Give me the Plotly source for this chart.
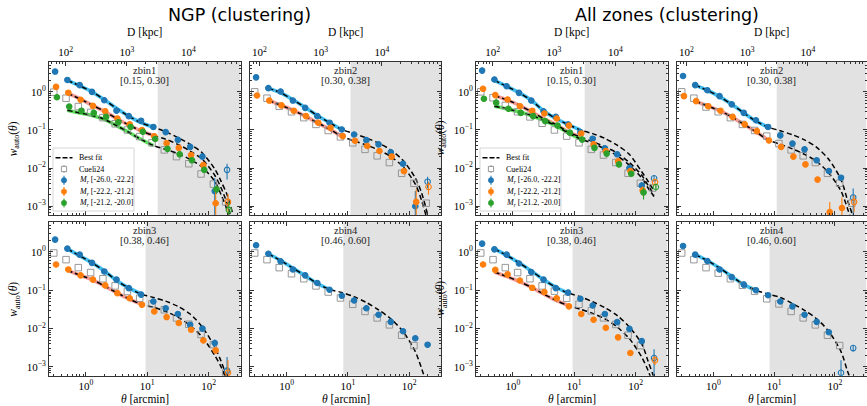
import plotly.graph_objects as go

W, H = 867, 406

# ---------------- data ----------------
theta = [0.316, 0.501, 0.794, 1.26, 2.00, 3.16, 5.01, 7.94, 12.6, 20.0, 31.6, 50.1, 79.4, 126.0, 200.0]
fit_theta = [0.5, 0.79, 1.26, 2.0, 3.16, 5.0, 7.9, 12.6, 20.0, 31.6, 50.0, 79.0, 126.0, 160.0, 200.0, 250.0]

zbin_names = ["zbin1", "zbin2", "zbin3", "zbin4"]
zbin_ranges = ["[0.15, 0.30]", "[0.30, 0.38]", "[0.38, 0.46]", "[0.46, 0.60]"]
fit_solid_max = [12.6, 7.9, 7.9, 5.0]        # arcmin, fitted range
shade_start = [14.8, 11.0, 9.4, 8.4]         # arcmin, excluded scales
kpc_per_arcmin_log = [2.33, 2.445, None, None]
group_titles = ["NGP (clustering)", "All zones (clustering)"]
legend_labels = ["Best fit", "Cueli24",
                 "<i>M<sub>r</sub></i> [-26.0, -22.2]",
                 "<i>M<sub>r</sub></i> [-22.2, -21.2]",
                 "<i>M<sub>r</sub></i> [-21.2, -20.0]"]

# NGP zbin1
ngp1_cueli = [0.98, 0.68, 0.41, 0.29, 0.21, 0.145, 0.10, 0.067, 0.046, 0.030, 0.020, 0.013, 0.0070, 0.0038, 0.0013]
ngp1_blue = [3.4, 2.05, 1.5, 1.0, 0.60, 0.32, 0.23, 0.175, 0.12, 0.088, 0.055, 0.036, 0.020, 0.0025, 0.009]
ngp1_orange = [1.35, 0.95, 0.62, 0.43, 0.31, 0.20, 0.14, 0.10, 0.068, 0.045, 0.034, 0.022, 0.012, 0.0012, 0.0013]
ngp1_green = [0.72, 0.41, 0.32, 0.28, 0.22, 0.16, 0.12, 0.09, 0.058, 0.032, 0.023, 0.016, 0.009, 0.0028, 0.0008]
ngp1_blue_err = [0, 0, 0, 0, 0, 0, 0, 0, 0, 0, 0, 0, 0.002, 0.003, 0.004]
ngp1_orange_err = [0, 0, 0, 0, 0, 0, 0, 0, 0, 0, 0, 0, 0.001, 0.0015, 0.0008]
ngp1_green_err = [0, 0, 0, 0, 0, 0, 0, 0, 0, 0, 0, 0, 0.001, 0.0006, 0.0005]
ngp1_open = [14]
ngp1_fit_blue = [2.0, 1.45, 1.0, 0.62, 0.37, 0.23, 0.155, 0.118, 0.09, 0.063, 0.042, 0.025, 0.0095, 0.0045, 0.002, 0.0006]
ngp1_fit_orange = [0.92, 0.66, 0.45, 0.31, 0.20, 0.135, 0.095, 0.072, 0.057, 0.042, 0.028, 0.017, 0.0065, 0.003, 0.0012, 0.0003]
ngp1_fit_green = [0.33, 0.28, 0.24, 0.19, 0.13, 0.087, 0.057, 0.039, 0.031, 0.024, 0.017, 0.0105, 0.0045, 0.002, 0.0008, 0.0002]

# NGP zbin2
ngp2_cueli = [1.0, 0.68, 0.42, 0.30, 0.21, 0.14, 0.097, 0.066, 0.046, 0.031, 0.021, 0.014, 0.0073, 0.0040, 0.0012]
ngp2_blue = [2.4, 1.25, 1.02, 0.59, 0.38, 0.23, 0.155, 0.103, 0.076, 0.054, 0.042, 0.026, 0.013, 0.0010, 0.0044]
ngp2_orange = [0.80, 0.59, 0.44, 0.32, 0.23, 0.155, 0.114, 0.069, 0.052, 0.038, 0.028, 0.020, 0.0083, 0.0013, 0.0032]
ngp2_blue_err = [0, 0, 0, 0, 0, 0, 0, 0, 0, 0, 0, 0, 0.001, 0.0015, 0.0015]
ngp2_orange_err = [0, 0, 0, 0, 0, 0, 0, 0, 0, 0, 0, 0, 0.001, 0.0015, 0.0012]
ngp2_open = [14]
ngp2_fit_blue = [1.25, 0.95, 0.62, 0.39, 0.24, 0.155, 0.103, 0.08, 0.062, 0.045, 0.030, 0.016, 0.0055, 0.0022, 0.0006, 0.0001]
ngp2_fit_orange = [0.60, 0.45, 0.33, 0.23, 0.155, 0.105, 0.068, 0.052, 0.040, 0.030, 0.020, 0.011, 0.0038, 0.0014, 0.0004, 0.0001]

# NGP zbin3
ngp3_cueli = [0.94, 0.63, 0.39, 0.29, 0.20, 0.13, 0.093, 0.062, 0.044, 0.031, 0.019, 0.013, 0.0070, 0.0038, 0.0007]
ngp3_blue = [2.1, 1.22, 0.85, 0.52, 0.31, 0.19, 0.114, 0.077, 0.051, 0.034, 0.024, 0.0125, 0.010, 0.0042, 0.0008]
ngp3_orange = [0.47, 0.35, 0.245, 0.19, 0.134, 0.084, 0.062, 0.042, 0.028, 0.020, 0.014, 0.0093, 0.0049, 0.0027, 0.0007]
ngp3_blue_err = [0, 0, 0, 0, 0, 0, 0, 0, 0, 0, 0, 0, 0.001, 0.001, 0.001]
ngp3_orange_err = [0, 0, 0, 0, 0, 0, 0, 0, 0, 0, 0, 0, 0, 0.0005, 0.0008]
ngp3_open = [14]
ngp3_fit_blue = [1.2, 0.80, 0.52, 0.32, 0.18, 0.115, 0.08, 0.065, 0.052, 0.038, 0.024, 0.011, 0.0033, 0.0014, 0.0005, 0.0001]
ngp3_fit_orange = [0.33, 0.25, 0.19, 0.13, 0.087, 0.06, 0.044, 0.036, 0.028, 0.020, 0.012, 0.006, 0.002, 0.001, 0.0004, 0.0001]

# NGP zbin4
ngp4_cueli = [0.94, 0.63, 0.39, 0.27, 0.20, 0.13, 0.09, 0.063, 0.043, 0.028, 0.019, 0.0125, 0.0067, 0.0036, 0.0004]
ngp4_blue = [1.5, 0.90, 0.57, 0.35, 0.245, 0.155, 0.103, 0.072, 0.054, 0.034, 0.023, 0.015, 0.0085, 0.0056, 0.0038]
ngp4_blue_err = [0, 0, 0, 0, 0, 0, 0, 0, 0, 0, 0, 0, 0.0008, 0.0008, 0.0006]
ngp4_open = []
ngp4_fit_blue = [0.90, 0.60, 0.38, 0.24, 0.15, 0.105, 0.088, 0.068, 0.048, 0.031, 0.018, 0.0085, 0.0025, 0.0009, 0.0003, 0.0001]

# All zones zbin1
all1_cueli = [1.0, 0.70, 0.44, 0.30, 0.22, 0.15, 0.10, 0.069, 0.046, 0.031, 0.022, 0.014, 0.0073, 0.0040, 0.0030]
all1_blue = [3.6, 2.1, 1.4, 0.94, 0.59, 0.31, 0.22, 0.14, 0.088, 0.059, 0.033, 0.023, 0.010, 0.0035, 0.0054]
all1_orange = [1.2, 0.82, 0.63, 0.42, 0.32, 0.27, 0.20, 0.13, 0.081, 0.042, 0.028, 0.015, 0.0084, 0.0026, 0.0043]
all1_green = [0.66, 0.52, 0.36, 0.28, 0.23, 0.17, 0.13, 0.085, 0.056, 0.034, 0.024, 0.0125, 0.0071, 0.0023, 0.0032]
all1_blue_err = [0, 0, 0, 0, 0, 0, 0, 0, 0, 0, 0, 0, 0.001, 0.0008, 0.0008]
all1_orange_err = [0, 0, 0, 0, 0, 0, 0, 0, 0, 0, 0, 0, 0.001, 0.0007, 0.0007]
all1_green_err = [0, 0, 0, 0, 0, 0, 0, 0, 0, 0, 0, 0, 0.0008, 0.0008, 0.0006]
all1_open = [14]
all1_fit_blue = [2.0, 1.4, 0.95, 0.60, 0.32, 0.20, 0.14, 0.10, 0.08, 0.06, 0.04, 0.023, 0.008, 0.0045, 0.0025, None]
all1_fit_orange = [0.80, 0.62, 0.45, 0.30, 0.20, 0.14, 0.09, 0.065, 0.05, 0.036, 0.025, 0.014, 0.0065, 0.0035, 0.0020, None]
all1_fit_green = [0.42, 0.36, 0.30, 0.24, 0.18, 0.13, 0.085, 0.058, 0.045, 0.032, 0.021, 0.012, 0.0055, 0.003, 0.0018, None]

# All zones zbin2
all2_cueli = [1.0, 0.68, 0.40, 0.30, 0.21, 0.14, 0.097, 0.069, 0.044, 0.030, 0.021, 0.014, 0.0073, 0.0040, 0.0012]
all2_blue = [2.6, 1.5, 1.1, 0.77, 0.47, 0.28, 0.18, 0.12, 0.072, 0.044, 0.031, 0.016, 0.0084, 0.0056, 0.0017]
all2_orange = [0.77, 0.57, 0.42, 0.32, 0.22, 0.14, 0.093, 0.053, 0.036, 0.020, 0.0125, 0.005, 0.0007, 0.0009, 0.0013]
all2_blue_err = [0, 0, 0, 0, 0, 0, 0, 0, 0, 0, 0, 0, 0.0008, 0.0008, 0.0012]
all2_orange_err = [0, 0, 0, 0, 0, 0, 0, 0, 0, 0, 0, 0.0008, 0.0006, 0.0008, 0.0006]
all2_open = [14]
all2_fit_blue = [1.5, 1.1, 0.75, 0.47, 0.28, 0.17, 0.12, 0.095, 0.075, 0.055, 0.035, 0.017, 0.005, 0.0015, 0.0005, 0.0001]
all2_fit_orange = [0.57, 0.43, 0.32, 0.22, 0.14, 0.09, 0.055, 0.042, 0.032, 0.023, 0.015, 0.0075, 0.0025, 0.0009, 0.0003, 0.0001]

# All zones zbin3
all3_cueli = [0.94, 0.63, 0.39, 0.29, 0.20, 0.13, 0.095, 0.062, 0.043, 0.029, 0.019, 0.0128, 0.0067, 0.0036, 0.0004]
all3_blue = [1.65, 1.17, 0.85, 0.50, 0.30, 0.19, 0.114, 0.087, 0.060, 0.040, 0.024, 0.0147, 0.0098, 0.0047, 0.0017]
all3_orange = [0.47, 0.34, 0.26, 0.18, 0.116, 0.09, 0.062, 0.038, 0.024, 0.017, 0.0105, 0.0059, 0.0023, 0.0004, 0.0015]
all3_blue_err = [0, 0, 0, 0, 0, 0, 0, 0, 0, 0, 0, 0, 0.0008, 0.0008, 0.0012]
all3_orange_err = [0, 0, 0, 0, 0, 0, 0, 0, 0, 0, 0, 0, 0, 0, 0.0004]
all3_open = [14]
all3_fit_blue = [1.2, 0.82, 0.52, 0.32, 0.19, 0.12, 0.085, 0.068, 0.05, 0.035, 0.022, 0.011, 0.004, 0.0014, 0.0005, 0.0001]
all3_fit_orange = [0.30, 0.23, 0.17, 0.12, 0.08, 0.055, 0.04, 0.032, 0.025, 0.018, 0.011, 0.0055, 0.0018, 0.0008, 0.0003, 0.0001]

# All zones zbin4
all4_cueli = [0.94, 0.63, 0.39, 0.28, 0.20, 0.135, 0.095, 0.060, 0.044, 0.028, 0.019, 0.0125, 0.0067, 0.0036, 0.0004]
all4_blue = [1.43, 0.85, 0.58, 0.35, 0.22, 0.14, 0.10, 0.074, 0.051, 0.038, 0.023, 0.015, 0.008, 0.0007, 0.0031]
all4_blue_err = [0, 0, 0, 0, 0, 0, 0, 0, 0, 0, 0, 0, 0.0006, 0.0008, 0.0006]
all4_open = [13, 14]
all4_fit_blue = [0.85, 0.60, 0.38, 0.23, 0.14, 0.10, 0.08, 0.065, 0.045, 0.030, 0.018, 0.0085, 0.0025, 0.0008, 0.0003, 0.0001]

panels = [
    dict(cueli=ngp1_cueli, blue=ngp1_blue, orange=ngp1_orange, green=ngp1_green,
         blue_err=ngp1_blue_err, orange_err=ngp1_orange_err, green_err=ngp1_green_err, open=ngp1_open,
         fit_blue=ngp1_fit_blue, fit_orange=ngp1_fit_orange, fit_green=ngp1_fit_green),
    dict(cueli=ngp2_cueli, blue=ngp2_blue, orange=ngp2_orange,
         blue_err=ngp2_blue_err, orange_err=ngp2_orange_err, open=ngp2_open,
         fit_blue=ngp2_fit_blue, fit_orange=ngp2_fit_orange),
    dict(cueli=ngp3_cueli, blue=ngp3_blue, orange=ngp3_orange,
         blue_err=ngp3_blue_err, orange_err=ngp3_orange_err, open=ngp3_open,
         fit_blue=ngp3_fit_blue, fit_orange=ngp3_fit_orange),
    dict(cueli=ngp4_cueli, blue=ngp4_blue, blue_err=ngp4_blue_err, open=ngp4_open,
         fit_blue=ngp4_fit_blue),
    dict(cueli=all1_cueli, blue=all1_blue, orange=all1_orange, green=all1_green,
         blue_err=all1_blue_err, orange_err=all1_orange_err, green_err=all1_green_err, open=all1_open,
         fit_blue=all1_fit_blue, fit_orange=all1_fit_orange, fit_green=all1_fit_green),
    dict(cueli=all2_cueli, blue=all2_blue, orange=all2_orange,
         blue_err=all2_blue_err, orange_err=all2_orange_err, open=all2_open,
         fit_blue=all2_fit_blue, fit_orange=all2_fit_orange),
    dict(cueli=all3_cueli, blue=all3_blue, orange=all3_orange,
         blue_err=all3_blue_err, orange_err=all3_orange_err, open=all3_open,
         fit_blue=all3_fit_blue, fit_orange=all3_fit_orange),
    dict(cueli=all4_cueli, blue=all4_blue, blue_err=all4_blue_err, open=all4_open,
         fit_blue=all4_fit_blue),
]

# ---------------- style ----------------
SERIF = "Liberation Serif, DejaVu Serif, serif"
SANS = "DejaVu Sans, sans-serif"
FRAME = "#333333"
COL = {"blue": "#1f77b4", "orange": "#ff7f0e", "green": "#2ca02c"}
FITCOL = {"blue": "#22b4ee", "orange": "#f3897f", "green": "#44d544"}
XSHIFT = {"cueli": 0.95, "blue": 1.0, "orange": 1.035, "green": 1.07}
SHADE = "#e2e2e2"

XR = [-0.6, 2.52]
YR = [-3.23, 0.79]
col_px = [(49, 240.5), (250, 441), (476, 667.5), (677, 866.5)]
row_px = [(61.7, 215.0), (221.7, 375.7)]
title_cx = [239, 667]


def fx(x):
    return x / W


def fy(y):
    return 1 - y / H


def sup(e):
    s = str(e).replace("-", "\u2212")
    return "10<sup>" + s + "</sup>"


def note(text, x, y, size=11, family=SERIF, xanchor="center", angle=0, color="black"):
    return dict(text=text, xref="paper", yref="paper", x=x, y=y, showarrow=False,
                xanchor=xanchor, yanchor="middle", textangle=angle,
                font=dict(family=family, size=size, color=color))


fig = go.Figure()
layout = dict(width=W, height=H, margin=dict(l=0, r=0, t=0, b=0),
              plot_bgcolor="white", paper_bgcolor="white", showlegend=False)
shapes = []
annotations = []

minor_x = [m * 10 ** e for e in range(-2, 7) for m in range(2, 10)]
minor_y = [m * 10 ** e for e in range(-5, 2) for m in range(2, 10)]
major_x = [10 ** e for e in range(-2, 7)]
major_y = [10 ** e for e in range(-5, 2)]

tick_font = dict(family=SERIF, size=11, color="black")
top_axis_id = 9

for p, pd in enumerate(panels):
    g, z = divmod(p, 4)
    row, c2 = divmod(z, 2)
    col = 2 * g + c2
    ax = p + 1
    xs = "x" if ax == 1 else f"x{ax}"
    ys = "y" if ax == 1 else f"y{ax}"
    xdom = [fx(col_px[col][0]), fx(col_px[col][1])]
    ydom = [fy(row_px[row][1]), fy(row_px[row][0])]

    common = dict(type="log", showline=True, linecolor=FRAME, linewidth=0.9,
                  ticks="inside", ticklen=4, tickwidth=0.8, tickcolor=FRAME,
                  showgrid=False, zeroline=False, tickfont=tick_font,
                  tickmode="array")
    minor_common = dict(ticks="inside", ticklen=2, tickwidth=0.6, tickcolor=FRAME, tickmode="array")
    layout[f"xaxis{ax}"] = dict(common, range=XR, domain=xdom, anchor=ys,
                                tickvals=major_x, ticktext=[sup(e) for e in range(-2, 7)],
                                showticklabels=(row == 1),
                                mirror=("ticks" if row == 1 else False),
                                minor=dict(minor_common, tickvals=minor_x))
    layout[f"yaxis{ax}"] = dict(common, range=YR, domain=ydom, anchor=xs,
                                tickvals=major_y, ticktext=[sup(e) for e in range(-5, 2)],
                                showticklabels=(col in (0, 2)), mirror="ticks",
                                minor=dict(minor_common, tickvals=minor_y))

    # top physical-distance axis for the first row
    if row == 0:
        off = kpc_per_arcmin_log[z]
        tid = top_axis_id
        top_axis_id += 1
        layout[f"xaxis{tid}"] = dict(common, range=[XR[0] + off, XR[1] + off],
                                     overlaying=xs, side="top", anchor=ys,
                                     tickvals=major_x, ticktext=[sup(e) for e in range(-2, 7)],
                                     minor=dict(minor_common, tickvals=minor_x))
        fig.add_trace(go.Scatter(x=[], y=[], xaxis=f"x{tid}", yaxis=ys, hoverinfo="skip"))
        annotations.append(note("D [kpc]", (xdom[0] + xdom[1]) / 2, fy(33), size=11.5))
    else:
        annotations.append(note("<i>θ</i> [arcmin]", (xdom[0] + xdom[1]) / 2, fy(399), size=11.5))
    if col in (0, 2):
        annotations.append(note("<i>w</i><sub>auto</sub>(<i>θ</i>)", fx(col_px[col][0] - 35),
                                (ydom[0] + ydom[1]) / 2, size=11.5, angle=-90))

    # excluded-scale shading
    shapes.append(dict(type="rect", xref=xs, yref=f"{ys} domain",
                       x0=shade_start[z], x1=10 ** XR[1], y0=0, y1=1,
                       fillcolor=SHADE, line=dict(width=0), layer="below"))

    # zbin labels
    cx = (xdom[0] + xdom[1]) / 2
    annotations.append(note(zbin_names[z], cx, fy(row_px[row][0] + 8.3), size=10.5, color="#222"))
    annotations.append(note(zbin_ranges[z], cx, fy(row_px[row][0] + 18.8), size=10.5, color="#222"))

    names = [n for n in ("blue", "orange", "green") if n in pd]

    # fits: coloured solid over the fitted range
    for n in names:
        fv = pd["fit_" + n]
        sx = [t for t, v in zip(fit_theta, fv) if v is not None and t <= fit_solid_max[z] * 1.001]
        sy = [v for t, v in zip(fit_theta, fv) if v is not None and t <= fit_solid_max[z] * 1.001]
        fig.add_trace(go.Scatter(x=sx, y=sy, mode="lines", xaxis=xs, yaxis=ys,
                                 line=dict(color=FITCOL[n], width=3.6, shape="spline", smoothing=0.8),
                                 opacity=0.85, hoverinfo="skip"))
    for n in names:
        fv = pd["fit_" + n]
        fig.add_trace(go.Scatter(x=fit_theta, y=fv, mode="lines", xaxis=xs, yaxis=ys,
                                 line=dict(color="black", width=1.5, dash="5px,3px",
                                           shape="spline", smoothing=0.8),
                                 connectgaps=False, hoverinfo="skip"))

    # Cueli24 reference points
    fig.add_trace(go.Scatter(x=[t * XSHIFT["cueli"] for t in theta], y=pd["cueli"],
                             mode="markers", xaxis=xs, yaxis=ys,
                             marker=dict(symbol="square-open", size=6.5, color="#8c8c8c",
                                         line=dict(width=0.9, color="#8c8c8c")),
                             hoverinfo="skip"))
    # measurements
    for n in names:
        vals = pd[n]
        err = pd[n + "_err"]
        em = [e if e < v else v - 1e-7 for v, e in zip(vals, err)]
        sym = ["circle-open" if i in pd["open"] else "circle" for i in range(len(vals))]
        fig.add_trace(go.Scatter(x=[t * XSHIFT[n] for t in theta], y=vals, mode="markers",
                                 xaxis=xs, yaxis=ys,
                                 marker=dict(symbol=sym, size=5.5, color=COL[n],
                                             line=dict(width=1.1, color=COL[n])),
                                 error_y=dict(type="data", array=err, arrayminus=em, symmetric=False,
                                              color=COL[n], thickness=1.1, width=0),
                                 hoverinfo="skip"))

# group titles
for g, title in enumerate(group_titles):
    annotations.append(note(title, fx(title_cx[g]), fy(15), size=17.5, family=SANS))

# legends (bottom-left of the zbin1 panels)
row_y = [157.7, 169.0, 180.3, 191.6, 202.9]
for col in (0, 2):
    dx = col_px[col][0] - 49
    shapes.append(dict(type="rect", xref="paper", yref="paper",
                       x0=fx(53 + dx), x1=fx(134 + dx), y0=fy(211), y1=fy(148),
                       fillcolor="rgba(255,255,255,0.85)", line=dict(color="#cccccc", width=0.8)))
    kx = 64 + dx
    shapes.append(dict(type="line", xref="paper", yref="paper",
                       x0=fx(kx - 8.5), x1=fx(kx + 8.5), y0=fy(row_y[0]), y1=fy(row_y[0]),
                       line=dict(color="black", width=1.5, dash="5px,2px")))
    shapes.append(dict(type="line", xref="paper", yref="paper",
                       x0=fx(kx), x1=fx(kx), y0=fy(row_y[1] - 4), y1=fy(row_y[1] + 4),
                       line=dict(color="#8c8c8c", width=0.9)))
    shapes.append(dict(type="rect", xref="paper", yref="paper",
                       x0=fx(kx - 2.6), x1=fx(kx + 2.6), y0=fy(row_y[1] + 2.6), y1=fy(row_y[1] - 2.6),
                       fillcolor="white", line=dict(color="#8c8c8c", width=0.9)))
    for i, n in enumerate(("blue", "orange", "green")):
        yy = row_y[2 + i]
        shapes.append(dict(type="line", xref="paper", yref="paper",
                           x0=fx(kx), x1=fx(kx), y0=fy(yy - 4.5), y1=fy(yy + 4.5),
                           line=dict(color=COL[n], width=1.1)))
        shapes.append(dict(type="circle", xref="paper", yref="paper",
                           x0=fx(kx - 2.7), x1=fx(kx + 2.7), y0=fy(yy + 2.7), y1=fy(yy - 2.7),
                           fillcolor=COL[n], line=dict(color=COL[n], width=0.5)))
    for i, lab in enumerate(legend_labels):
        annotations.append(note(lab, fx(77 + dx), fy(row_y[i]), size=8, xanchor="left"))

layout["shapes"] = shapes
layout["annotations"] = annotations
fig.update_layout(**layout)
fig.write_html("out.html")
